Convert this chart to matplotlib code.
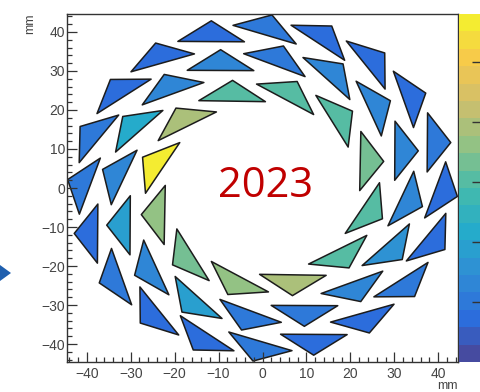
import numpy as np
import matplotlib
matplotlib.use("Agg")
import matplotlib.pyplot as plt
from matplotlib.collections import PolyCollection
from matplotlib.colors import ListedColormap, BoundaryNorm, LinearSegmentedColormap
from matplotlib.cm import ScalarMappable
from matplotlib.patches import Polygon
from matplotlib.ticker import MultipleLocator

plt.rcParams['font.family'] = ['Liberation Sans', 'DejaVu Sans']

# cell contents per ring, counter-clockwise starting from the first cell
outer_vals = [1.0, 0.7, 0.7, 0.7, 1.0, 0.7, 0.7, 0.7, 1.0, 1.0,
              0.7, 1.0, 0.7, 0.7, 1.0, 0.7, 0.7, 1.0, 0.7, 0.7]
middle_vals = [1.3, 1.3, 1.3, 1.0, 1.3, 1.3, 2.2, 1.3,
               1.9, 1.3, 1.9, 1.0, 1.0, 1.3, 1.6, 1.3]
inner_vals = [3.35, 3.05, 3.05, 3.05, 3.9, 5.65, 3.6, 3.35, 3.6, 3.9, 3.05, 3.05]
ring_values = [outer_vals, middle_vals, inner_vals]

# ring geometry: radius of cell centres (mm) and angle of the first cell (deg)
ring_radius = [41.0, 33.3, 25.0]
ring_phase = [16.5, 16.6, 15.9]

# one triangular cell: (tangential, radial) offsets from its centre, mm
cell_t = np.array([7.8, -1.0, -6.7])
cell_r = np.array([0.5, 3.4, -3.9])

# z scale of the palette
z_levels = np.linspace(0, 5.8, 21)
z_ticks = [1, 2, 3, 4, 5]

# ROOT kBird palette, slightly faded
bird_stops = np.linspace(0, 1, 9)
bird_r = [0.2082, 0.0592, 0.0780, 0.0232, 0.1802, 0.5301, 0.8186, 0.9956, 0.9764]
bird_g = [0.1664, 0.3599, 0.5041, 0.6419, 0.7178, 0.7492, 0.7328, 0.7862, 0.9832]
bird_b = [0.5293, 0.8684, 0.8385, 0.7914, 0.6425, 0.4662, 0.3499, 0.1968, 0.0539]
bird = LinearSegmentedColormap.from_list(
    "bird", list(zip(bird_stops, zip(bird_r, bird_g, bird_b))))
ncont = len(z_levels) - 1
band_colors = bird((np.arange(ncont) + 0.5) / ncont)[:, :3]
band_colors = 0.85 * band_colors + 0.15 * 0.82
cmap = ListedColormap(band_colors)
norm = BoundaryNorm(z_levels, cmap.N)

# build the triangles
polys, vals = [], []
for R, phase, v in zip(ring_radius, ring_phase, ring_values):
    n = len(v)
    for k in range(n):
        th = np.deg2rad(phase + 360.0 * k / n)
        rv = np.array([np.cos(th), np.sin(th)])
        tv = np.array([-np.sin(th), np.cos(th)])
        pts = R * rv + np.outer(cell_t, tv) + np.outer(cell_r, rv)
        polys.append(pts)
    vals.extend(v)

W, H = 480, 392
fig = plt.figure(figsize=(W / 100, H / 100), dpi=100)
ax = fig.add_axes([67 / W, 30 / H, 391 / W, 348 / H])

coll = PolyCollection(polys, array=np.array(vals), cmap=cmap, norm=norm,
                      edgecolors='#1c1c1c', linewidths=1.1)
ax.add_collection(coll)
ax.set_xlim(-44.5, 44.5)
ax.set_ylim(-44.6, 44.6)

ax.xaxis.set_major_locator(MultipleLocator(10))
ax.xaxis.set_minor_locator(MultipleLocator(2))
ax.yaxis.set_major_locator(MultipleLocator(10))
ax.yaxis.set_minor_locator(MultipleLocator(2))
ax.tick_params(which='both', direction='in', colors='#333333', width=0.9,
               labelcolor='#444444', labelsize=10)
ax.tick_params(which='major', length=7.5)
ax.tick_params(which='minor', length=3.8)
ax.tick_params(axis='y', pad=1.5)
ax.tick_params(axis='x', pad=3.5)
for s in ax.spines.values():
    s.set_color('#333333')
    s.set_linewidth(1.0)

fig.text(30 / W, 1 - 24 / H, "mm", rotation=90, ha='center', va='center',
         fontsize=9, color='#444444')
fig.text(458 / W, 1 - 386 / H, "mm", ha='right', va='center',
         fontsize=9, color='#444444')

# palette on the right
cax = fig.add_axes([459 / W, 30 / H, 25 / W, 348 / H])
cb = fig.colorbar(ScalarMappable(norm=norm, cmap=cmap), cax=cax, ticks=z_ticks)
cb.outline.set_visible(False)
cax.tick_params(direction='in', length=8.6, width=1.0, color='#333333',
                labelright=False)

fig.text(266 / W, 1 - 197 / H, "2023", color='#c00000', fontsize=30,
         family=['Open Sans', 'DejaVu Sans'], ha='center', va='baseline')

arrow = Polygon([[0 / W, 1 - 265 / H], [11 / W, 1 - 273 / H], [0 / W, 1 - 281 / H]],
                closed=True, transform=fig.transFigure, facecolor='#1f5fae',
                edgecolor='none')
fig.patches.append(arrow)

fig.savefig("out.png", dpi=100)
